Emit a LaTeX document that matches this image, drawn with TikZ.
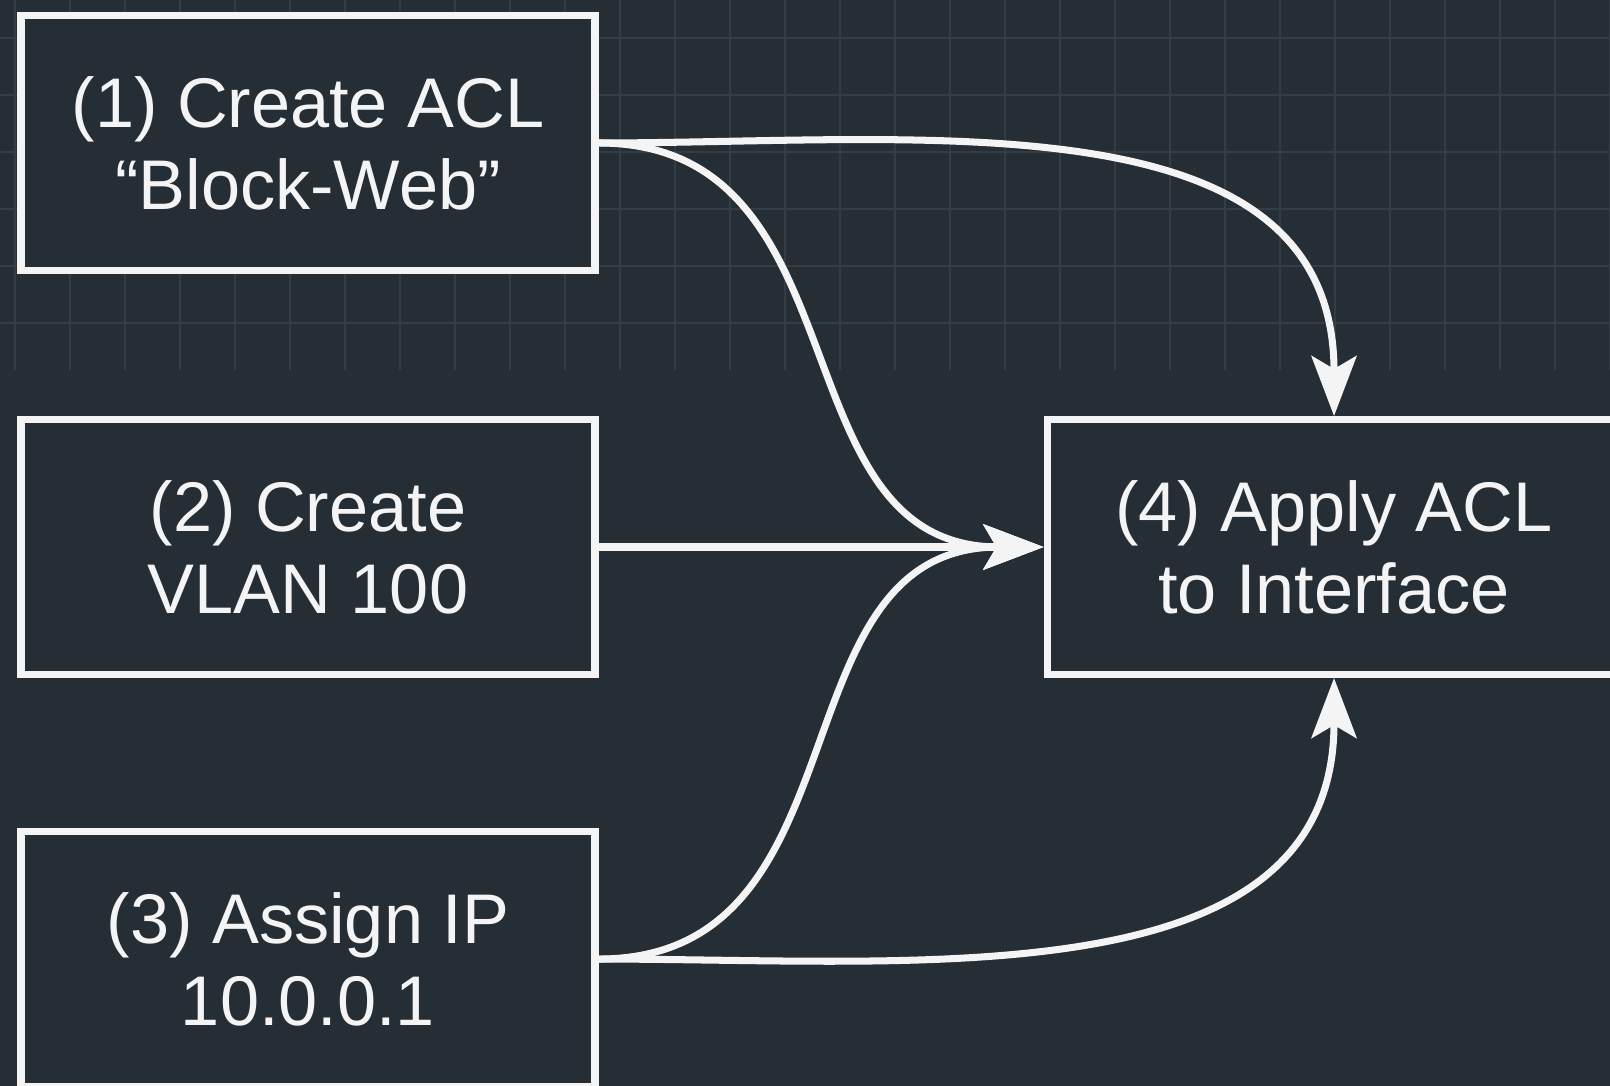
\documentclass[tikz,border=0pt]{standalone}
\usepackage{fontspec}
\setmainfont{Liberation Sans}
\usepackage{tikz}
\usetikzlibrary{positioning}
\usetikzlibrary{arrows.meta}
\definecolor{boardbg}{HTML}{262E35}
\definecolor{gridln}{HTML}{323D45}
\definecolor{chalk}{HTML}{F4F4F4}
\tikzset{
block/.style = {draw=chalk, line width=2pt, fill=boardbg, rectangle, text=chalk,
  minimum width=5.74cm, minimum height=2.55cm, align=center,
  font=\fontsize{20}{23.3}\selectfont},
link/.style  = {draw=chalk, line width=2pt, ->}
}

\begin{document}
\begin{tikzpicture}[auto, node distance=1.5cm, >={Stealth[length=6mm,width=4.5mm,inset=1.3mm]}]
    % background and the faint grid at the top
    \fill [boardbg] (0,0) rectangle (16.1,10.86);
    \useasboundingbox (0,0) rectangle (16.1,10.86);
    \foreach \y in {0,...,5}
        \draw [gridln, line width=0.4pt] (0,10.48-0.57*\y) -- (16.1,10.48-0.57*\y);
    \foreach \x in {0,...,29}
        \draw [gridln, line width=0.4pt] (0.15+0.55*\x,7.16) -- (0.15+0.55*\x,10.86);

    % We start by placing the blocks
    \node [block] at (3.08,9.43) (acl) {(1) Create ACL\\``Block-Web''};
    \node [block, below=1.42cm of acl] (vlan) {(2) Create\\VLAN 100};
    \node [block, below=of vlan] (ip) {(3) Assign IP\\10.0.0.1};
    \node [block, right=4.45cm of vlan] (apply) {(4) Apply ACL\\to Interface};

    \draw [link] (acl.east) to [out=0, in=90, looseness=1.05] (apply.north);
    \draw [link] (acl.east) to [out=0, in=180, looseness=1.15] (apply.west);
    \draw [link] (vlan.east) -- (apply.west);
    \draw [link] (ip.east) to [out=0, in=180, looseness=1.15] (apply.west);
    \draw [link] (ip.east) to [out=0, in=270, looseness=1.05] (apply.south);
\end{tikzpicture}
\end{document}
